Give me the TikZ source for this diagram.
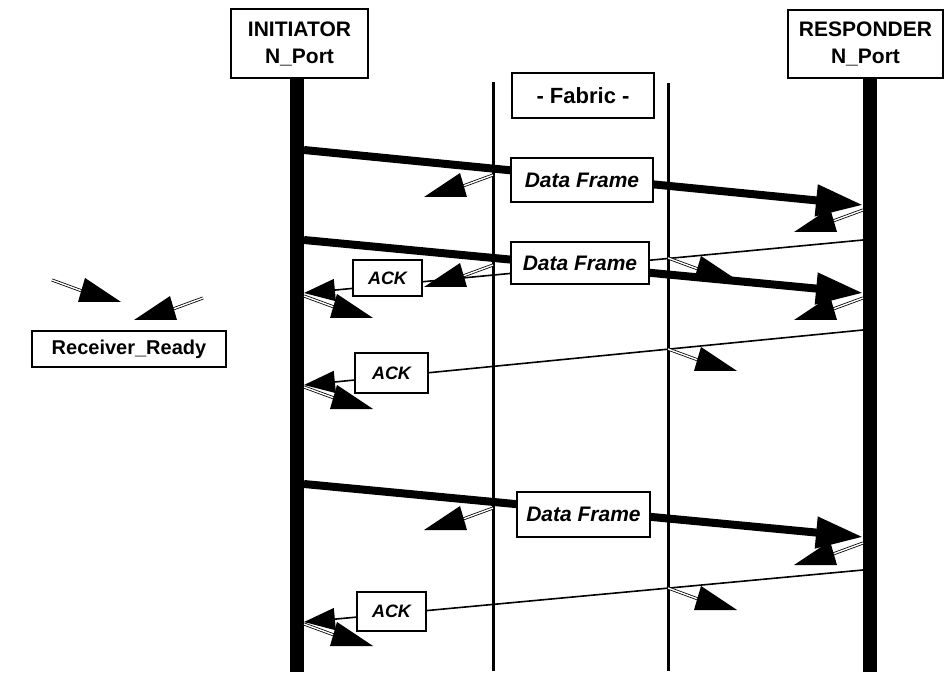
\documentclass[tikz,border=0pt]{standalone}
\usepackage{fontspec}
\setmainfont{Liberation Sans}
\usetikzlibrary{arrows.meta}
\pgfdeclarelayer{bg}
\pgfdeclarelayer{paper}
\pgfsetlayers{paper,bg,main}

\begin{document}
\begin{tikzpicture}[x=1pt,y=-1pt,
  box/.style={draw, line width=1.8pt, fill=white, inner sep=0pt, align=center},
  title/.style={box, font=\fontsize{21}{27}\selectfont\bfseries},
  frame/.style={box, font=\fontsize{21}{25}\selectfont\bfseries\itshape},
  ack/.style={box, font=\fontsize{18}{22}\selectfont\bfseries\itshape},
  lifeline/.style={line width=14pt, line cap=butt},
  fabricline/.style={line width=3pt, line cap=butt},
  dataline/.style={line width=8pt, line cap=butt, -{Triangle[length=47pt,width=30pt]}},
  ackline/.style={line width=1.6pt, line cap=butt, -{Triangle[length=31pt,width=22pt]}},
  % receiver-ready token: striped stem with a filled wedge head
  rrdy/.pic={
    \draw[line width=0.8pt, double=white, double distance=1.4pt] (0,0) -- (30,11);
    \fill (33,-2) -- (69,22) -- (26,22) -- cycle;
  }
]
\useasboundingbox (0,0) rectangle (945,684);
\begin{pgfonlayer}{paper}
  \fill[white] (0,0) rectangle (945,684);
\end{pgfonlayer}

% ports and fabric
\node[title, minimum width=137pt, minimum height=69pt] (init) at (299.5,43.5) {INITIATOR\\N\_Port};
\node[title, minimum width=155pt, minimum height=68pt] (resp) at (865.5,44) {RESPONDER\\N\_Port};
\node[box, font=\fontsize{22}{26}\selectfont\bfseries, minimum width=142pt, minimum height=45pt] (fabric) at (583,95.5) {- Fabric -};

% legend
\node[box, font=\fontsize{20}{24}\selectfont\bfseries, minimum width=194pt, minimum height=36pt] (recv) at (129,349) {Receiver\_Ready};

% frames
\node[frame, minimum width=142pt, minimum height=44pt] (df1) at (582,180) {Data Frame};
\node[frame, minimum width=138pt, minimum height=42pt] (df2) at (580,263) {Data Frame};
\node[frame, minimum width=133pt, minimum height=45pt] (df3) at (583.5,514.5) {Data Frame};

% acknowledgements
\node[ack, minimum width=69pt, minimum height=36pt] (ack1) at (387.5,278) {ACK};
\node[ack, minimum width=73pt, minimum height=40pt] (ack2) at (391.5,373) {ACK};
\node[ack, minimum width=69pt, minimum height=39pt] (ack3) at (391.5,611.5) {ACK};

% lifeline end points
\coordinate (itop) at (297,78);  \coordinate (ibot) at (297,672);
\coordinate (rtop) at (870,78);  \coordinate (rbot) at (870,672);
\coordinate (fltop) at (493,82); \coordinate (flbot) at (493,671);
\coordinate (frtop) at (668,83); \coordinate (frbot) at (668,671);

% message end points
\coordinate (i1) at (304,150);  \coordinate (r1) at (863,205);
\coordinate (i2) at (304,240);  \coordinate (r2) at (863,293);
\coordinate (ra1) at (863,240); \coordinate (ia1) at (304,293);
\coordinate (ra2) at (863,330); \coordinate (ia2) at (304,385);
\coordinate (i3) at (304,484);  \coordinate (r3) at (863,537);
\coordinate (ra3) at (863,570); \coordinate (ia3) at (304,622);

\begin{pgfonlayer}{bg}
  \draw[lifeline] (itop) -- (ibot);
  \draw[lifeline] (rtop) -- (rbot);
  \draw[fabricline] (fltop) -- (flbot);
  \draw[fabricline] (frtop) -- (frbot);
  \draw[dataline] (i1) -- (r1);
  \draw[dataline] (i2) -- (r2);
  \draw[dataline] (i3) -- (r3);
  \draw[ackline] (ra1) -- (ia1);
  \draw[ackline] (ra2) -- (ia2);
  \draw[ackline] (ra3) -- (ia3);
\end{pgfonlayer}

% receiver-ready tokens heading left
\foreach \p in {(493,175),(863,210),(493,265),(863,298),(493,508),(863,543),(203,298)}
  \pic[xscale=-1] at \p {rrdy};
% receiver-ready tokens heading right
\foreach \p in {(668,258),(304,296),(668,349),(304,387),(668,588),(304,624),(52,280)}
  \pic at \p {rrdy};
\end{tikzpicture}
\end{document}
